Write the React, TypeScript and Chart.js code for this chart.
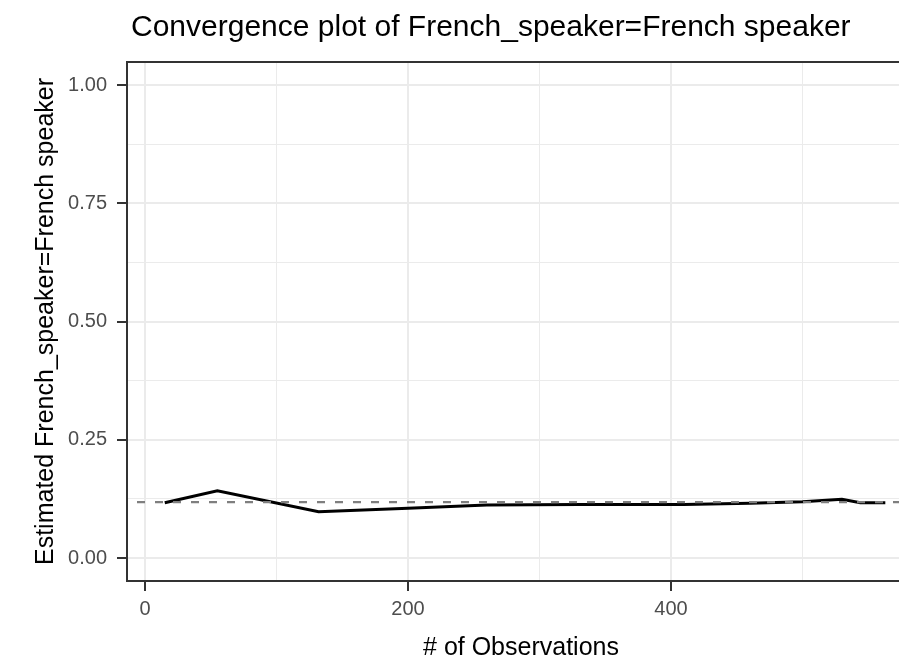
import React, { useEffect, useRef } from "react";
import { Chart, registerables } from "chart.js";

Chart.register(...registerables);

// ---- data ----
const observations = [15, 55, 132, 200, 260, 330, 410, 460, 500, 530, 544, 563];
const estimates = [0.117, 0.142, 0.098, 0.105, 0.112, 0.113, 0.113, 0.116, 0.119, 0.124, 0.117, 0.117];
const overallMean = 0.118;
const xRange = [-13.7, 573.4];
const yRange = [-0.0486, 1.0486];
const xGridTicks = [0, 100, 200, 300, 400, 500];
const xLabelTicks = [0, 200, 400];
const yGridTicks = [0, 0.125, 0.25, 0.375, 0.5, 0.625, 0.75, 0.875, 1];
const yLabelTicks = [0, 0.25, 0.5, 0.75, 1];
const titleText = "Convergence plot of French_speaker=French speaker";
const xTitle = "# of Observations";
const yTitle = "Estimated French_speaker=French speaker";

const FONT = '"Liberation Sans", Arial, Helvetica, sans-serif';

const near = (list: number[], v: number) => list.some((t) => Math.abs(t - v) < 1e-9);

const decorPlugin = {
  id: "decor",
  afterDraw(chart: any) {
    const { ctx, chartArea } = chart;
    const { left, top, right, bottom } = chartArea;
    ctx.save();
    // panel border
    ctx.strokeStyle = "#333333";
    ctx.lineWidth = 2;
    ctx.strokeRect(left, top, right - left + 2, bottom - top);
    // title
    ctx.fillStyle = "#000000";
    ctx.font = `30px ${FONT}`;
    ctx.textAlign = "left";
    ctx.textBaseline = "alphabetic";
    ctx.fillText(titleText, 131, 36);
    // x title
    ctx.font = `25px ${FONT}`;
    ctx.textAlign = "center";
    ctx.fillText(xTitle, 521, 655);
    // y title
    ctx.translate(53, (top + bottom) / 2);
    ctx.rotate(-Math.PI / 2);
    ctx.fillText(yTitle, 0, 0);
    ctx.restore();
  },
};

export default function App() {
  const ref = useRef<HTMLCanvasElement | null>(null);

  useEffect(() => {
    if (!ref.current) return;
    const gridColor = "#ebebeb";
    const chart = new Chart(ref.current, {
      type: "line",
      data: {
        datasets: [
          {
            label: "mean",
            data: [
              { x: xRange[0], y: overallMean },
              { x: xRange[1], y: overallMean },
            ],
            borderColor: "#7f7f7f",
            borderWidth: 2.2,
            borderDash: [8, 10],
            borderDashOffset: 8,
            pointRadius: 0,
            order: 0,
          },
          {
            label: "estimate",
            data: observations.map((o, i) => ({ x: o, y: estimates[i] })),
            borderColor: "#000000",
            borderWidth: 3,
            pointRadius: 0,
            tension: 0,
            order: 1,
          },
        ],
      },
      options: {
        responsive: false,
        animation: false,
        devicePixelRatio: 1,
        layout: { padding: { top: 62, left: 0, right: 0, bottom: 0 } },
        plugins: {
          legend: { display: false },
          title: { display: false },
          tooltip: { enabled: false },
        },
        scales: {
          x: {
            type: "linear",
            min: xRange[0],
            max: xRange[1],
            afterBuildTicks: (scale: any) => {
              scale.ticks = xGridTicks.map((v) => ({ value: v }));
            },
            afterFit: (scale: any) => {
              scale.height = 79;
            },
            border: { display: false },
            grid: {
              color: gridColor,
              lineWidth: (c: any) => (c.tick && near(xLabelTicks, c.tick.value) ? 2 : 1),
              tickColor: (c: any) => (c.tick && near(xLabelTicks, c.tick.value) ? "#333333" : "rgba(0,0,0,0)"),
              tickLength: 10,
              tickWidth: 2,
            },
            ticks: {
              autoSkip: false,
              maxRotation: 0,
              padding: 6,
              color: "#4d4d4d",
              font: { family: FONT, size: 20 },
              callback: (v: any) => (near(xLabelTicks, Number(v)) ? String(v) : ""),
            },
          },
          y: {
            type: "linear",
            min: yRange[0],
            max: yRange[1],
            afterBuildTicks: (scale: any) => {
              scale.ticks = yGridTicks.map((v) => ({ value: v }));
            },
            afterFit: (scale: any) => {
              scale.width = 127;
            },
            border: { display: false },
            grid: {
              color: gridColor,
              lineWidth: (c: any) => (c.tick && near(yLabelTicks, c.tick.value) ? 2 : 1),
              tickColor: (c: any) => (c.tick && near(yLabelTicks, c.tick.value) ? "#333333" : "rgba(0,0,0,0)"),
              tickLength: 10,
              tickWidth: 2,
            },
            ticks: {
              autoSkip: false,
              padding: 10,
              color: "#4d4d4d",
              font: { family: FONT, size: 20 },
              callback: (v: any) => (near(yLabelTicks, Number(v)) ? Number(v).toFixed(2) : ""),
            },
          },
        },
      },
      plugins: [decorPlugin],
    });
    return () => chart.destroy();
  }, []);

  return (
    <div style={{ position: "fixed", left: 0, top: 0, width: 899, height: 660, background: "#ffffff" }}>
      <canvas ref={ref} width={899} height={660} style={{ display: "block" }} />
    </div>
  );
}
